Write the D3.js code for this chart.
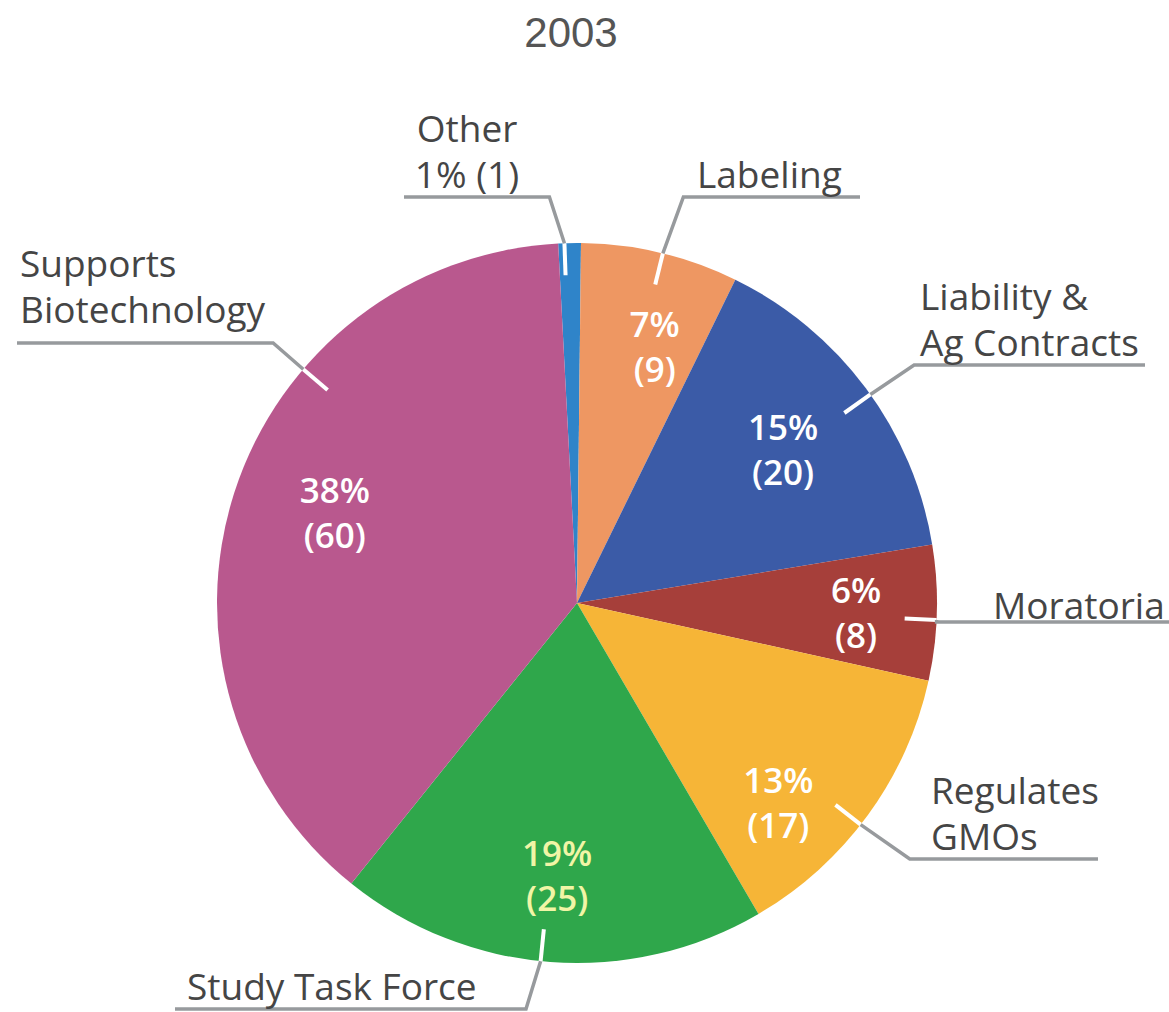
<!DOCTYPE html>
<html>
<head>
<meta charset="UTF-8">
<style>
body { margin: 0; background: #fff; }
.title { font: 42px "Liberation Sans", Arial, sans-serif; fill: #555; }
.outer { font: 37px "Open Sans", sans-serif; fill: #454545; }
.inner { font: 600 35px "Open Sans", sans-serif; }
.leader { fill: none; stroke: #979a9d; stroke-width: 3.5px; }
.tick-in { stroke: #fff; stroke-width: 4px; }
</style>
</head>
<body>
<svg class="chart"></svg>
<script src="https://d3js.org/d3.v7.min.js"></script>
<script>

// slice data
var categories = ["Other", "Labeling", "Liability & Ag Contracts", "Moratoria",
                  "Regulates GMOs", "Study Task Force", "Supports Biotechnology"];
var percents = [1, 7, 15, 6, 13, 19, 38];
var counts   = [1, 9, 20, 8, 17, 25, 60];
var labelLines = [["Other", "1% (1)"], ["Labeling"], ["Liability &", "Ag Contracts"],
                  ["Moratoria"], ["Regulates", "GMOs"], ["Study Task Force"],
                  ["Supports", "Biotechnology"]];

var colors = ["#2f84c9", "#ee9762", "#3b5ba7", "#a63f3a", "#f6b537", "#2fa74b", "#b9588e"];
var innerColor = ["#fff", "#fff", "#fff", "#fff", "#fff", "#f1f5a6", "#fff"];

// label placement (angles in degrees clockwise from 12 o'clock)
var layout = [
  {edge: -2,    dir: -18, lineY: 197,  lineEnd: 404,  textX: 467, anchor: "middle", gap: 9},
  {edge: 13.8,  dir: 20,  lineY: 197,  lineEnd: 860,  textX: 697, anchor: "start",  gap: 9,  inA: 16.3,  inR: 277},
  {edge: 54.6,  dir: 56,  lineY: 365,  lineEnd: 1145, textX: 920, anchor: "start",  gap: 9,  inA: 51.6,  inR: 263},
  {edge: 92.7,  dir: 90,  lineY: 622,  lineEnd: 1169, textX: 993, anchor: "start",  gap: 3,  inA: 90,    inR: 279},
  {edge: 128,   dir: 125, lineY: 859,  lineEnd: 1098, textX: 931, anchor: "start",  gap: 9,  inA: 133.4, inR: 277},
  {edge: 185.8, dir: 197, lineY: 1009, lineEnd: 175,  textX: 187, anchor: "start",  gap: 9,  inA: 184.3, inR: 264},
  {edge: 310.5, dir: 311, lineY: 343,  lineEnd: 17,   textX: 20,  anchor: "start",  gap: 20, inA: 292.4, inR: 262}
];

var width = 1169, height = 1012,
    cx = 577, cy = 603, radius = 360;

var svg = d3.select(".chart")
    .attr("width", width)
    .attr("height", height);

svg.append("text")
    .attr("class", "title")
    .attr("x", 571).attr("y", 47)
    .attr("text-anchor", "middle")
    .text("2003");

var rad = Math.PI / 180;
var start = -3 * rad;

var pie = d3.pie()
    .sort(null)
    .value(function(d) { return d; })
    .startAngle(start)
    .endAngle(start + 2 * Math.PI);

var arc = d3.arc().innerRadius(0).outerRadius(radius);

var g = svg.append("g")
    .attr("transform", "translate(" + cx + "," + cy + ")");

var arcs = pie(percents);

g.selectAll("path.slice")
    .data(arcs)
    .enter().append("path")
    .attr("class", "slice")
    .attr("d", arc)
    .attr("fill", function(d, i) { return colors[i]; });

function polar(deg, r) {
  return [r * Math.sin(deg * rad), -r * Math.cos(deg * rad)];
}

// leader lines + outside labels
layout.forEach(function(L, i) {
  var inner = polar(L.edge, radius - 32),
      edge = polar(L.edge, radius),
      ly = L.lineY - cy,
      dx = Math.sin(L.dir * rad), dy = -Math.cos(L.dir * rad),
      elbow;
  if (Math.abs(dy) < 0.05) {
    elbow = [edge[0], ly];
  } else {
    var t = (ly - edge[1]) / dy;
    elbow = [edge[0] + dx * t, ly];
  }
  // white tick inside the slice
  g.append("line")
      .attr("class", "tick-in")
      .attr("x1", inner[0]).attr("y1", inner[1])
      .attr("x2", edge[0]).attr("y2", edge[1]);

  g.append("path")
      .attr("class", "leader")
      .attr("d", d3.line()([edge, elbow, [L.lineEnd - cx, ly]]));

  var lines = labelLines[i];
  lines.forEach(function(s, k) {
    svg.append("text")
        .attr("class", "outer")
        .attr("x", L.textX)
        .attr("y", L.lineY - L.gap - 46 * (lines.length - 1 - k))
        .attr("text-anchor", L.anchor)
        .text(s);
  });

  // values inside the slice
  if (L.inA !== undefined) {
    var p = polar(L.inA, L.inR);
    [percents[i] + "%", "(" + counts[i] + ")"].forEach(function(s, k) {
      g.append("text")
          .attr("class", "inner")
          .attr("text-anchor", "middle")
          .attr("fill", innerColor[i])
          .attr("x", p[0])
          .attr("y", p[1] + 45 * k)
          .text(s);
    });
  }
});

</script>
</body>
</html>
